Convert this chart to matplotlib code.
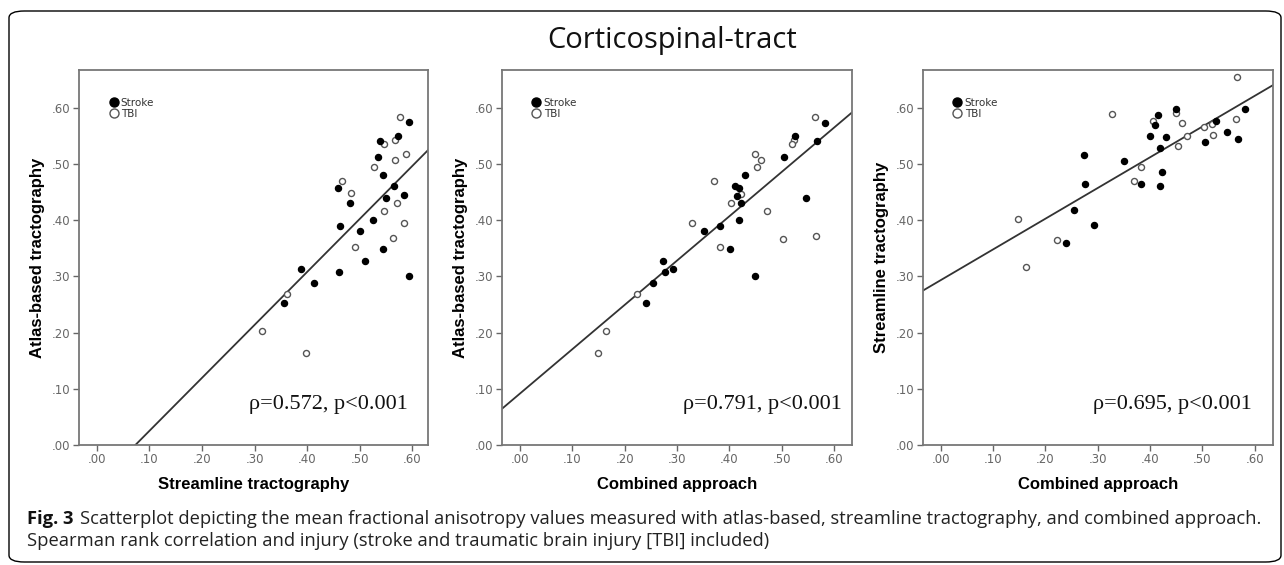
import matplotlib
matplotlib.use('Agg')
import numpy as np
import matplotlib.pyplot as plt
from matplotlib.patches import FancyBboxPatch
from matplotlib.ticker import FuncFormatter
from matplotlib.lines import Line2D

# panel 1: streamline (x) vs atlas-based (y)
stroke1_x = [0.539, 0.573, 0.594, 0.534, 0.544, 0.566, 0.458, 0.551, 0.585, 0.481,
             0.462, 0.525, 0.501, 0.511, 0.545, 0.461, 0.594, 0.389, 0.414, 0.356]
stroke1_y = [0.541, 0.549, 0.574, 0.513, 0.481, 0.461, 0.458, 0.440, 0.444, 0.431,
             0.390, 0.400, 0.381, 0.328, 0.349, 0.307, 0.300, 0.313, 0.288, 0.252]
tbi1_x = [0.577, 0.547, 0.568, 0.568, 0.588, 0.527, 0.467, 0.483, 0.547, 0.571,
          0.585, 0.491, 0.563, 0.362, 0.315, 0.398]
tbi1_y = [0.583, 0.536, 0.543, 0.507, 0.517, 0.495, 0.469, 0.448, 0.416, 0.431,
          0.394, 0.353, 0.368, 0.269, 0.203, 0.163]

# panel 2: combined (x) vs atlas-based (y)
stroke2_x = [0.583, 0.526, 0.567, 0.505, 0.430, 0.410, 0.419, 0.414, 0.422, 0.547,
             0.419, 0.383, 0.351, 0.401, 0.449, 0.273, 0.277, 0.293, 0.255, 0.241]
stroke2_y = [0.573, 0.549, 0.541, 0.512, 0.480, 0.461, 0.458, 0.443, 0.430, 0.440,
             0.400, 0.390, 0.381, 0.349, 0.300, 0.327, 0.307, 0.313, 0.288, 0.253]
tbi2_x = [0.564, 0.523, 0.519, 0.450, 0.461, 0.453, 0.370, 0.423, 0.404, 0.472,
          0.329, 0.382, 0.503, 0.566, 0.224, 0.164, 0.149]
tbi2_y = [0.583, 0.543, 0.536, 0.517, 0.507, 0.494, 0.469, 0.447, 0.430, 0.416,
          0.394, 0.353, 0.367, 0.372, 0.269, 0.203, 0.163]

# panel 3: combined (x) vs streamline (y)
stroke3_x = [0.449, 0.582, 0.415, 0.410, 0.526, 0.400, 0.431, 0.419, 0.547, 0.505,
             0.567, 0.273, 0.350, 0.276, 0.383, 0.422, 0.419, 0.254, 0.293, 0.240]
stroke3_y = [0.598, 0.598, 0.587, 0.569, 0.577, 0.549, 0.547, 0.528, 0.556, 0.539,
             0.544, 0.515, 0.506, 0.464, 0.465, 0.485, 0.461, 0.418, 0.392, 0.359]
tbi3_x = [0.566, 0.328, 0.449, 0.405, 0.461, 0.502, 0.519, 0.564, 0.471, 0.521,
          0.453, 0.382, 0.370, 0.148, 0.223, 0.164]
tbi3_y = [0.654, 0.588, 0.591, 0.577, 0.572, 0.566, 0.571, 0.580, 0.550, 0.551,
          0.531, 0.494, 0.470, 0.402, 0.365, 0.317]

# fit lines: (intercept, slope)
fit1 = (-0.069, 0.942)
fit2 = (0.0916, 0.788)
fit3 = (0.293, 0.547)

xlabels = ['Streamline tractography', 'Combined approach', 'Combined approach']
ylabels = ['Atlas-based tractography', 'Atlas-based tractography', 'Streamline tractography']
stats = ['\u03c1=0.572, p<0.001', '\u03c1=0.791, p<0.001', '\u03c1=0.695, p<0.001']
ticks = [0.0, 0.1, 0.2, 0.3, 0.4, 0.5, 0.6]

W, H = 1284, 565
fig = plt.figure(figsize=(W / 100, H / 100), dpi=100)

# outer rounded frame
fig.patches.append(FancyBboxPatch((9 / W, 3 / H), 1272 / W, 551 / H,
                                  boxstyle='round,pad=0,rounding_size=0.012',
                                  transform=fig.transFigure, fill=False,
                                  ec='black', lw=1.0))

fig.text(672 / W, 1 - 48 / H, 'Corticospinal-tract', ha='center', va='baseline',
         fontsize=21, family='Open Sans', color='#111111')

panels = [
    (79, 349, (-0.034, 0.630), stroke1_x, stroke1_y, tbi1_x, tbi1_y, fit1, 0.943),
    (501.7, 350.6, (-0.035, 0.635), stroke2_x, stroke2_y, tbi2_x, tbi2_y, fit2, 0.97),
    (922.7, 350, (-0.034, 0.634), stroke3_x, stroke3_y, tbi3_x, tbi3_y, fit3, 0.94),
]

fmt = FuncFormatter(lambda v, p: ('%.2f' % v)[1:])

for i, (left, width, xlim, sx, sy, tx, ty, fit, sxpos) in enumerate(panels):
    ax = fig.add_axes([left / W, (H - 445) / H, width / W, 375 / H])
    ax.scatter(tx, ty, s=19, facecolors='white', edgecolors='#555555', linewidths=1.0, zorder=3)
    ax.scatter(sx, sy, s=19, color='black', zorder=4)
    xs = np.array(xlim)
    ax.plot(xs, fit[0] + fit[1] * xs, color='#333333', lw=1.3, zorder=2)
    ax.set_xlim(xlim)
    ax.set_ylim(0, 0.667)
    ax.set_xticks(ticks)
    ax.set_yticks(ticks)
    ax.xaxis.set_major_formatter(fmt)
    ax.yaxis.set_major_formatter(fmt)
    ax.tick_params(length=4, width=1, color='#666666', labelsize=8.5,
                   labelcolor='#666666', pad=2)
    for sp in ax.spines.values():
        sp.set_color('#777777')
        sp.set_linewidth(1.3)
    ax.set_xlabel(xlabels[i], fontsize=12, fontweight='bold', family='Liberation Sans', labelpad=8)
    ax.set_ylabel(ylabels[i], fontsize=12, fontweight='bold', family='Liberation Sans', labelpad=5)
    ax.text(sxpos, 0.107, stats[i], transform=ax.transAxes, ha='right', va='center',
            fontsize=16, family='Liberation Serif', color='#111111')
    handles = [Line2D([], [], ls='none', marker='o', ms=6.5, mfc='black', mec='black'),
               Line2D([], [], ls='none', marker='o', ms=6.5, mfc='white', mec='#555555')]
    ax.legend(handles, ['Stroke', 'TBI'], loc='upper left', bbox_to_anchor=(0.072, 0.94),
              frameon=False, fontsize=7.5, handlelength=0.8, handletextpad=0.3,
              labelspacing=0.1, borderpad=0, labelcolor='#333333')

# caption: bold "Fig. 3" followed by regular text
cap_size = 13.2
t_bold = fig.text(27 / W, 1 - 524 / H, 'Fig. 3', fontsize=cap_size, family='Open Sans',
                  fontweight='bold', ha='left', va='baseline', color='#111111')
renderer = fig.canvas.get_renderer()
bb = t_bold.get_window_extent(renderer)
fig.text((bb.x1 + 6) / W, 1 - 524 / H,
         'Scatterplot depicting the mean fractional anisotropy values measured with atlas-based, streamline tractography, and combined approach.',
         fontsize=cap_size, family='Open Sans', ha='left', va='baseline', color='#222222')
fig.text(27 / W, 1 - 546 / H,
         'Spearman rank correlation and injury (stroke and traumatic brain injury [TBI] included)',
         fontsize=cap_size, family='Open Sans', ha='left', va='baseline', color='#222222')

fig.savefig('out.png', dpi=100)
